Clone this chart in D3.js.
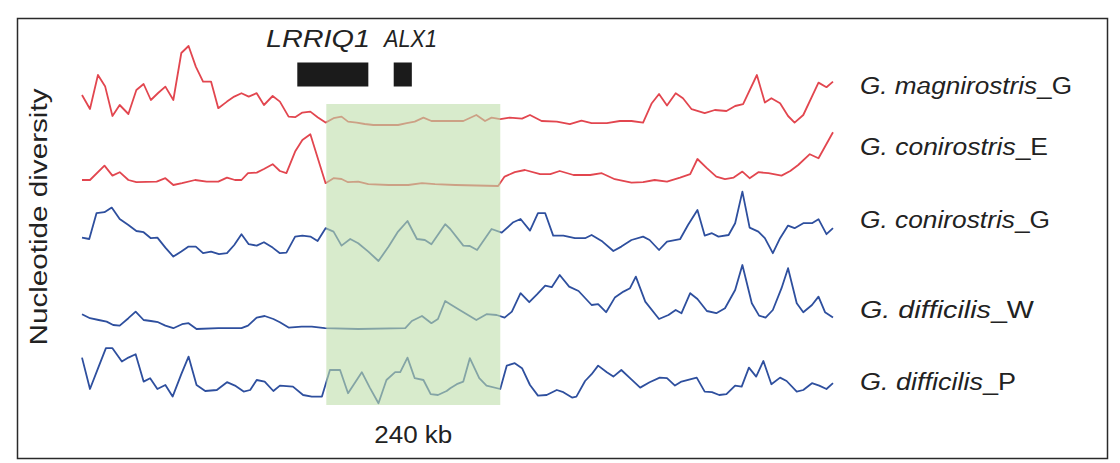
<!DOCTYPE html>
<html><head><meta charset="utf-8">
<script src="https://cdn.jsdelivr.net/npm/d3@7"></script>
<style>
html,body{margin:0;padding:0;background:#fff;}
svg{display:block;}
text{font-family:"Liberation Sans",Arial,Helvetica,sans-serif;fill:#222;}
</style></head>
<body>
<script>
// Genomic position (kb) and nucleotide diversity (arbitrary units, x1e-3)
const trackNames = ["G. magnirostris", "G. conirostris", "G. conirostris", "G. difficilis", "G. difficilis"];
const trackSuffix = ["_G", "_E", "_G", "_W", "_P"];
const trackColors = ["#e2464f", "#e2464f", "#2e4f9e", "#2e4f9e", "#2e4f9e"];

const magnirostrisG = [[0,1.55],[11,0.85],[22,2.55],[32,1.97],[42,0.50],[52,1.05],[64,0.60],[75,1.80],[85,2.10],[95,1.30],[105,1.65],[115,1.97],[126,1.30],[137,3.65],[147,4.00],[157,2.97],[167,2.22],[178,2.22],[188,0.89],[200,1.22],[210,1.47],[220,1.64],[230,1.47],[241,1.64],[251,1.05],[263,1.50],[273,1.22],[285,0.47],[294,0.44],[304,0.67],[315,0.72],[325,0.44],[336,0.17],[347,0.39],[358,0.47],[367,0.22],[379,0.17],[390,0.10],[402,0.05],[413,0.05],[425,0.05],[436,0.05],[448,0.14],[459,0.22],[471,0.42],[482,0.25],[496,0.25],[508,0.25],[526,0.25],[544,0.55],[556,0.25],[565,0.42],[577,0.34],[590,0.42],[607,0.37],[618,0.55],[634,0.25],[655,0.22],[673,0.09],[689,0.27],[703,0.14],[724,0.14],[742,0.25],[758,0.25],[774,0.17],[786,1.14],[796,1.60],[807,1.02],[819,1.64],[829,1.39],[841,0.84],[859,0.64],[873,0.80],[889,0.75],[901,1.00],[912,1.09],[931,2.55],[942,1.17],[951,1.39],[963,1.14],[974,0.50],[983,0.17],[995,0.55],[1016,2.17],[1027,1.94],[1036,2.22]];

const conirostrisE = [[0,0.35],[11,0.35],[31,1.07],[42,0.57],[52,0.74],[64,0.35],[75,0.24],[103,0.27],[115,0.44],[126,0.10],[138,0.19],[156,0.35],[172,0.27],[188,0.27],[200,0.47],[211,0.35],[220,0.35],[229,0.69],[241,0.72],[251,0.90],[263,1.14],[273,0.80],[282,0.69],[294,1.77],[304,2.35],[315,2.64],[336,0.19],[347,0.44],[358,0.40],[367,0.24],[381,0.27],[395,0.14],[423,0.10],[450,0.10],[469,0.19],[487,0.14],[515,0.10],[574,0.05],[583,0.52],[597,0.74],[611,0.85],[632,0.64],[646,0.64],[659,0.80],[678,0.60],[701,0.60],[717,0.69],[735,0.39],[758,0.22],[774,0.24],[790,0.35],[807,0.27],[825,0.47],[839,0.64],[849,1.40],[862,0.94],[875,0.52],[887,0.39],[899,0.47],[911,0.77],[921,0.44],[933,0.74],[947,0.69],[965,0.57],[977,0.80],[988,1.10],[1004,1.64],[1016,1.44],[1036,2.74]];

const conirostrisG = [[0,1.22],[10,1.15],[20,2.44],[31,2.49],[41,2.72],[52,2.15],[64,1.85],[75,1.55],[85,1.49],[95,1.19],[104,1.22],[115,0.72],[126,0.27],[137,0.52],[147,0.77],[157,0.77],[167,0.44],[178,0.52],[189,0.39],[200,0.44],[210,0.85],[220,1.39],[230,0.89],[241,0.82],[251,0.99],[263,0.72],[273,0.44],[282,0.47],[294,1.27],[304,1.32],[315,1.27],[325,1.05],[336,1.69],[347,1.52],[358,0.82],[370,1.15],[381,0.94],[395,0.52],[409,0.05],[423,0.77],[436,1.52],[449,2.05],[462,1.15],[473,1.10],[482,0.89],[501,1.89],[508,1.65],[526,0.82],[535,0.80],[545,0.60],[565,1.65],[579,1.47],[595,1.99],[605,2.15],[618,1.57],[629,2.44],[639,2.44],[650,1.32],[664,1.32],[680,1.19],[694,1.19],[703,1.35],[718,1.02],[733,0.55],[744,0.77],[758,1.10],[774,1.27],[783,1.10],[796,0.60],[807,1.02],[825,1.14],[836,1.85],[849,2.60],[859,1.32],[869,1.44],[878,1.27],[892,1.35],[901,1.94],[911,3.52],[921,1.72],[933,1.52],[942,1.19],[953,0.44],[963,1.19],[974,1.82],[983,1.69],[995,1.94],[1007,1.94],[1016,2.14],[1027,1.39],[1036,1.69]];

const difficilisW = [[0,0.79],[11,0.59],[23,0.50],[34,0.42],[43,0.25],[52,0.22],[64,0.59],[74,0.92],[85,0.50],[95,0.45],[105,0.39],[115,0.22],[126,0.09],[138,0.29],[147,0.34],[158,0.05],[188,0.09],[220,0.09],[229,0.22],[241,0.62],[252,0.70],[264,0.55],[273,0.39],[285,0.12],[303,0.17],[317,0.17],[335,0.09],[381,0.05],[446,0.09],[455,0.45],[469,0.70],[482,0.34],[491,0.55],[501,1.45],[508,1.29],[521,1.00],[544,0.50],[558,0.79],[572,0.75],[583,0.62],[593,0.92],[605,1.84],[617,1.39],[628,1.79],[639,2.22],[648,2.14],[659,2.75],[672,2.17],[685,1.95],[703,1.25],[712,1.29],[723,0.89],[735,1.62],[747,1.92],[756,2.09],[764,2.67],[777,1.42],[796,0.55],[809,0.75],[819,1.00],[827,0.84],[839,1.84],[849,1.55],[862,0.95],[875,0.84],[887,1.09],[901,2.00],[911,3.25],[924,1.34],[934,0.72],[943,0.62],[953,1.00],[965,2.09],[974,3.09],[986,1.34],[995,0.89],[1007,1.25],[1016,1.67],[1025,0.89],[1036,0.62]];

const difficilisP = [[0,2.32],[11,0.75],[23,1.87],[33,2.79],[42,2.79],[55,2.12],[64,2.32],[74,2.49],[85,1.12],[94,1.29],[104,0.75],[115,0.95],[125,0.37],[137,1.49],[147,2.37],[158,0.95],[170,0.65],[186,0.70],[200,1.09],[211,0.92],[223,0.62],[232,0.70],[241,1.20],[252,1.12],[264,0.65],[273,0.92],[291,0.87],[305,0.45],[317,0.37],[331,0.37],[342,1.70],[356,1.70],[367,0.54],[386,1.59],[397,0.82],[409,0.04],[420,1.20],[432,1.59],[439,1.59],[449,2.32],[459,1.29],[471,1.20],[481,0.49],[491,0.45],[503,0.65],[508,0.79],[517,0.99],[526,1.12],[535,2.29],[548,1.29],[558,0.92],[577,0.75],[586,1.92],[597,2.04],[607,1.79],[618,0.95],[629,0.42],[641,0.45],[655,0.70],[664,0.59],[676,0.32],[682,0.37],[694,1.15],[703,1.49],[712,1.92],[724,1.59],[733,1.37],[744,1.70],[756,1.29],[770,0.82],[783,1.09],[797,1.32],[807,1.29],[818,0.92],[827,1.12],[848,1.32],[859,0.62],[869,0.59],[879,0.45],[889,0.49],[901,0.92],[910,0.87],[920,1.82],[930,1.37],[940,2.15],[951,0.99],[963,1.32],[972,1.15],[986,0.62],[995,0.70],[1007,1.04],[1017,0.92],[1027,0.75],[1036,1.04]];

const seriesList = [magnirostrisG, conirostrisE, conirostrisG, difficilisW, difficilisP];

const genes = ["LRRIQ1", "ALX1"];
const geneStart = [297, 430];
const geneEnd = [395, 455];
const sweepRegion = [337, 577];
const sweepLabel = "240 kb";
const yLabel = "Nucleotide diversity";

// Layout
const W = 1120, H = 463;
const trackBase = [126, 187, 262, 330, 404];
const labelY = [94, 155, 228, 318, 390];
const labelW = [212, 188, 190, 174, 156];

const svg = d3.select("body").append("svg").attr("width", W).attr("height", H);

svg.append("rect").attr("x", 17.5).attr("y", 18.5).attr("width", 1090).attr("height", 440)
  .attr("fill", "none").attr("stroke", "#2a2a2a").attr("stroke-width", 1.5);

const x = d3.scaleLinear().domain([0, 1036]).range([82, 833]);

seriesList.forEach((s, i) => {
  const y = d3.scaleLinear().domain([0, 4]).range([trackBase[i], trackBase[i] - 80]);
  const line = d3.line().x(d => x(d[0])).y(d => y(d[1]));
  svg.append("path").datum(s).attr("d", line)
    .attr("fill", "none").attr("stroke", trackColors[i])
    .attr("stroke-width", 1.8).attr("stroke-linejoin", "round");
  const t = svg.append("text").attr("x", 860).attr("y", labelY[i])
    .attr("font-size", 23).attr("textLength", labelW[i]).attr("lengthAdjust", "spacingAndGlyphs");
  t.append("tspan").attr("font-style", "italic").text(trackNames[i]);
  t.append("tspan").text(trackSuffix[i]);
});

// sweep shading
svg.append("rect").attr("x", x(sweepRegion[0])).attr("y", 104)
  .attr("width", x(sweepRegion[1]) - x(sweepRegion[0])).attr("height", 301)
  .attr("fill", "rgb(190,222,170)").attr("opacity", 0.6);

// genes
genes.forEach((g, i) => {
  svg.append("rect").attr("x", x(geneStart[i])).attr("y", 62.5)
    .attr("width", x(geneEnd[i]) - x(geneStart[i])).attr("height", 24)
    .attr("fill", "#1b1b1b");
});
svg.append("text").attr("x", 266).attr("y", 47).attr("font-size", 23).attr("font-style", "italic")
  .attr("textLength", 104).attr("lengthAdjust", "spacingAndGlyphs").text(genes[0]);
svg.append("text").attr("x", 384).attr("y", 47).attr("font-size", 23).attr("font-style", "italic")
  .attr("textLength", 53).attr("lengthAdjust", "spacingAndGlyphs").text(genes[1]);

svg.append("text").attr("x", (x(sweepRegion[0]) + x(sweepRegion[1])) / 2).attr("y", 443)
  .attr("text-anchor", "middle").attr("font-size", 23)
  .attr("textLength", 78).attr("lengthAdjust", "spacingAndGlyphs").text(sweepLabel);

svg.append("text").attr("transform", "translate(47,217) rotate(-90)")
  .attr("text-anchor", "middle").attr("font-size", 23)
  .attr("textLength", 257).attr("lengthAdjust", "spacingAndGlyphs").text(yLabel);
</script>
</body></html>
